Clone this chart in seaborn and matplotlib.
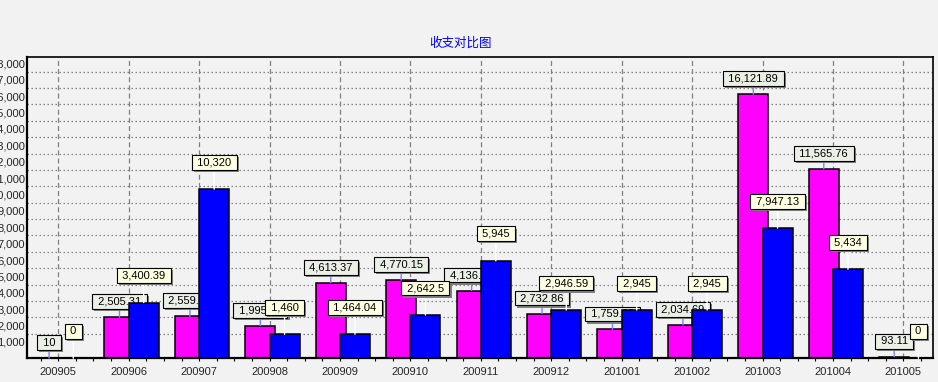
import numpy as np
import pandas as pd
import matplotlib
matplotlib.use("Agg")
import matplotlib.pyplot as plt
import matplotlib.patheffects as pe
from matplotlib.ticker import FixedLocator, FuncFormatter
import seaborn as sns

# ---------------- data ----------------
months = ['200905', '200906', '200907', '200908', '200909', '200910', '200911',
          '200912', '201001', '201002', '201003', '201004', '201005']
income = [10, 2505.31, 2559.45, 1995.38, 4613.37, 4770.15, 4136.27,
          2732.86, 1759.62, 2034.69, 16121.89, 11565.76, 93.11]
expense = [0, 3400.39, 10320, 1460, 1464.04, 2642.5, 5945,
           2946.59, 2945, 2945, 7947.13, 5434, 0]
title = '收支对比图'

# ---------------- style ----------------
sns.set_style('white')
plt.rcParams['font.family'] = ['Liberation Sans', 'DejaVu Sans']
BG = '#F2F2F2'

fig = plt.figure(figsize=(9.38, 3.82), dpi=100, facecolor=BG)
ax = fig.add_axes([27 / 938, (382 - 358.3) / 382, (933 - 27) / 938, (358.3 - 57) / 382])
ax.set_facecolor(BG)

idx = np.arange(len(months))
off_in, off_ex, width = -0.131, 0.213, 0.426

df_in = pd.DataFrame({'pos': idx + off_in, 'val': income})
df_ex = pd.DataFrame({'pos': idx + off_ex, 'val': expense})

sns.barplot(data=df_in, x='pos', y='val', native_scale=True, width=width,
            color='#FF00FF', saturation=1, edgecolor='black', linewidth=1.1,
            errorbar=None, ax=ax, zorder=2)
sns.barplot(data=df_ex, x='pos', y='val', native_scale=True, width=width,
            color='#0000FF', saturation=1, edgecolor='black', linewidth=1.1,
            errorbar=None, ax=ax, zorder=4)


def fmt(v):
    return f"{v:,.2f}".rstrip('0').rstrip('.')


def add_labels(xs, vals, dy, face, line_color, z):
    for x, v in zip(xs, vals):
        t = ax.annotate(' ' + fmt(v) + ' ', xy=(x, v), xytext=(0, dy),
                        textcoords='offset pixels', ha='center', va='center',
                        fontsize=8, color='black',
                        bbox=dict(boxstyle='square,pad=0.22', fc=face, ec='black', lw=0.8),
                        arrowprops=dict(arrowstyle='-', color=line_color, lw=1,
                                        shrinkA=0, shrinkB=0),
                        zorder=z, annotation_clip=False)
        t.get_bbox_patch().set_path_effects(
            [pe.SimplePatchShadow(offset=(1.5, -1.5), shadow_rgbFace='#7f7f7f', alpha=1),
             pe.Normal()])


add_labels(idx + off_in, income, 15.5, '#EAF0E6', '#8080FF', 3)
add_labels(idx + off_ex, expense, 27, '#FFFFE1', 'white', 5)

# ---------------- axes ----------------
ax.set_xlim(-0.444, 12.42)
ax.set_ylim(0, 18395)
ax.set_xlabel('')
ax.set_ylabel('')

ax.set_xticks(idx)
ax.set_xticklabels(months)
ax.xaxis.set_minor_locator(FixedLocator(np.arange(-0.25, 12.3, 0.25)))
ax.set_yticks(np.arange(1000, 18001, 1000))
ax.yaxis.set_major_formatter(FuncFormatter(lambda v, p: f"{v:,.0f}"))
ax.yaxis.set_minor_locator(FixedLocator(np.arange(1500, 18000, 1000)))

ax.tick_params(axis='x', which='both', direction='out', length=2.5, width=0.8,
               color='black', bottom=True, labelsize=8, pad=4)
ax.tick_params(axis='y', which='major', length=0, labelsize=8, pad=1.5, left=True)
ax.tick_params(axis='y', which='minor', length=0)

ax.set_axisbelow(True)
ax.grid(False)
ax.xaxis.grid(True, which='major', linestyle=(0, (4, 2.5)), color='#808080', lw=0.9)
ax.yaxis.grid(True, which='minor', linestyle=(0, (1.2, 2)), color='#808080', lw=0.9)

for s in ['top', 'right']:
    ax.spines[s].set_color('black')
    ax.spines[s].set_linewidth(1.2)
for s in ['left', 'bottom']:
    ax.spines[s].set_color('black')
    ax.spines[s].set_linewidth(1.6)
    ax.spines[s].set_visible(True)
ax.spines['top'].set_visible(True)
ax.spines['right'].set_visible(True)

fig.text(460 / 938, 1 - 43.3 / 382, title, color='#0000FF', fontsize=9,
         ha='center', va='center', family=['Noto Sans CJK SC', 'DejaVu Sans'])

fig.savefig('out.png', dpi=100, facecolor=BG)
